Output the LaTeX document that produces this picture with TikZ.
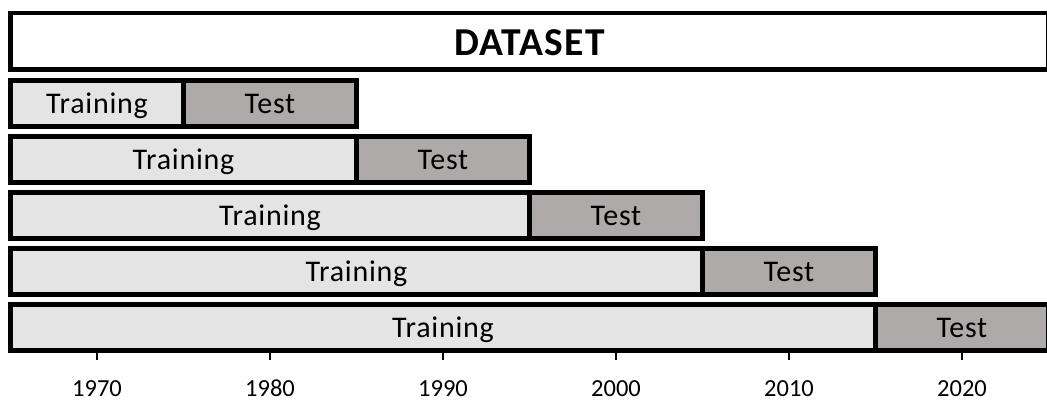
\documentclass[tikz,border=0pt]{standalone}
\usepackage{fontspec}
\setmainfont{Carlito}
\newfontfamily\boxfont[LetterSpace=2.5]{Carlito}
\newfontfamily\headfont[LetterSpace=3.5]{Carlito}
\begin{document}
\begin{tikzpicture}[x=1pt,y=-1pt,
  frame/.style={draw=black,line width=4.6pt,rectangle,inner sep=0pt,outer sep=0pt},
  trainbox/.style={frame,fill=trainfill,text height=24pt,text depth=4.4pt,
    font=\boxfont\fontsize{30}{36}\selectfont},
  testbox/.style={frame,fill=testfill,text height=24pt,text depth=4.4pt,
    font=\boxfont\fontsize{30}{36}\selectfont},
  tickmark/.style={draw=black,line width=1.4pt},
  yearlabel/.style={font=\fontsize{24.5}{28}\selectfont,inner sep=0pt,anchor=base}]
\definecolor{trainfill}{HTML}{E4E4E4}
\definecolor{testfill}{HTML}{AEAAAA}
\useasboundingbox (0,0) rectangle (1047,401);
\clip (0,0) rectangle (1047,401);
% header box spanning the whole period
\node[frame,fill=white,minimum width=1038pt,minimum height=56.5pt,
  text height=29.5pt,text depth=0pt,font=\headfont\bfseries\fontsize{39.5}{46}\selectfont]
  (dataset) at (529.5,41.25) {DATASET};
% expanding training windows followed by a ten-year test window
\foreach \i/\e in {1/1985,2/1995,3/2005,4/2015,5/2025}{
  \pgfmathsetmacro{\xa}{10.5}
  \pgfmathsetmacro{\xb}{10.5+17.3*(\e-10-1965)}
  \pgfmathsetmacro{\xc}{10.5+17.3*(\e-1965)}
  \pgfmathsetmacro{\yc}{103.5+56*(\i-1)}
  \pgfmathsetmacro{\wa}{\xb-\xa}
  \pgfmathsetmacro{\wb}{\xc-\xb}
  \node[trainbox,minimum width=\wa pt,minimum height=46pt]
    (train\i) at ({(\xa+\xb)/2},\yc) {Training};
  \node[testbox,minimum width=\wb pt,minimum height=46pt]
    (test\i) at ({(\xb+\xc)/2},\yc) {Test};
}
% year axis below the last row
\foreach \y in {1970,1980,...,2020}{
  \pgfmathsetmacro{\tx}{10.5+17.3*(\y-1965)}
  \coordinate (tick\y) at (\tx,353);
  \coordinate (tickend\y) at (\tx,360);
  \draw[tickmark] (tick\y) -- (tickend\y);
  \node[yearlabel] (year\y) at (\tx,396.5) {\y};
}
\end{tikzpicture}
\end{document}
